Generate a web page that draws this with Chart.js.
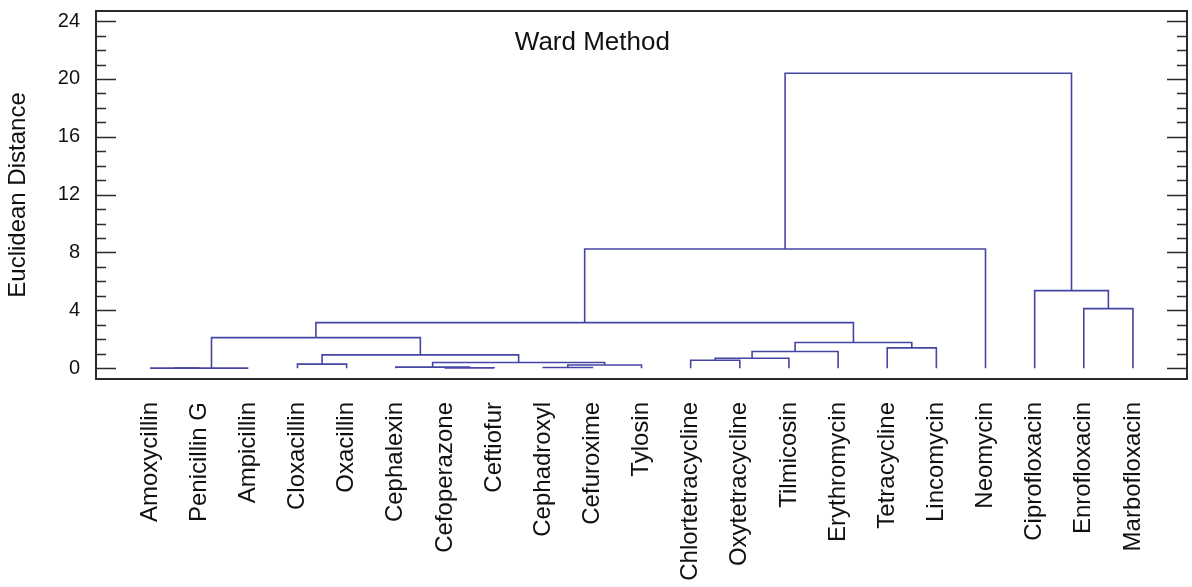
<!DOCTYPE html>
<html><head><meta charset="utf-8">
<script src="https://cdn.jsdelivr.net/npm/chart.js@4/dist/chart.umd.min.js"></script>
<style>html,body{margin:0;padding:0;background:#fff;} #wrap{width:1192px;height:587px;}</style>
</head><body><div id="wrap"><canvas id="c" width="1192" height="587"></canvas></div>
<script>
const leafNames = ['Amoxycillin','Penicillin G','Ampicillin','Cloxacillin','Oxacillin','Cephalexin','Cefoperazone','Ceftiofur','Cephadroxyl','Cefuroxime','Tylosin','Chlortetracycline','Oxytetracycline','Tilmicosin','Erythromycin','Tetracycline','Lincomycin','Neomycin','Ciprofloxacin','Enrofloxacin','Marbofloxacin'];
// merge k joins mergeLeft[k] and mergeRight[k]; ids < 21 are leaves, id 21+k is merge k
const mergeLeft  = [0, 21, 6, 8, 5, 24, 3, 25, 11, 29, 27, 30, 15, 32, 22, 35, 19, 18, 36, 39];
const mergeRight = [1, 2, 7, 9, 23, 10, 4, 26, 12, 13, 28, 14, 16, 33, 31, 34, 20, 37, 17, 38];
const mergeHeights = [0, 0, 0.02, 0.05, 0.07, 0.22, 0.28, 0.39, 0.55, 0.69, 0.92, 1.15, 1.40, 1.77, 2.11, 3.15, 4.12, 5.36, 8.24, 20.39];
const yTickValues = [0, 4, 8, 12, 16, 20, 24];
const minorTickValues = [0,1,2,3,4,5,6,7,8,9,10,11,12,13,14,15,16,17,18,19,20,21,22,23,24];
const chartTitle = 'Ward Method';
const yAxisTitle = 'Euclidean Distance';

const LINE = '#4545a3';
const FONT = "'Liberation Sans', Arial, Helvetica, sans-serif";

// build dendrogram segments from the linkage
const nLeaves = leafNames.length;
const nodeX = leafNames.map((_, i) => i);
const nodeH = leafNames.map(() => 0);
const datasets = [];
mergeHeights.forEach((h, k) => {
  const l = mergeLeft[k], r = mergeRight[k];
  nodeX[nLeaves + k] = (nodeX[l] + nodeX[r]) / 2;
  nodeH[nLeaves + k] = h;
  datasets.push({
    data: [
      {x: nodeX[l], y: nodeH[l]},
      {x: nodeX[l], y: h},
      {x: nodeX[r], y: h},
      {x: nodeX[r], y: nodeH[r]}
    ],
    showLine: true, borderColor: LINE, borderWidth: 1.6, pointRadius: 0, tension: 0, fill: false
  });
});

function noPad(s) { s.paddingTop = 0; s.paddingBottom = 0; s.paddingLeft = 0; s.paddingRight = 0; }

const framePlugin = {
  id: 'frame',
  afterDatasetsDraw(chart) {
    const {ctx, chartArea: a, scales: {x, y}} = chart;
    ctx.save();
    ctx.strokeStyle = '#2a2a2a';
    ctx.lineWidth = 1.5;
    minorTickValues.forEach(v => {
      const py = Math.round(y.getPixelForValue(v)) + 0.5;
      const len = (v % 4 === 0) ? 20 : 10;
      ctx.beginPath();
      ctx.moveTo(a.left, py); ctx.lineTo(a.left + len, py);
      ctx.moveTo(a.right, py); ctx.lineTo(a.right - len, py);
      ctx.stroke();
    });
    ctx.lineWidth = 2;
    ctx.strokeRect(a.left, a.top, a.right - a.left, a.bottom - a.top);
    ctx.fillStyle = '#111';
    ctx.font = '26px ' + FONT;
    ctx.textAlign = 'center';
    ctx.textBaseline = 'middle';
    ctx.fillText(chartTitle, x.getPixelForValue(9), y.getPixelForValue(22.5));
    ctx.restore();
  }
};

new Chart(document.getElementById('c'), {
  type: 'scatter',
  data: {datasets},
  options: {
    responsive: false,
    animation: false,
    devicePixelRatio: 1,
    layout: {padding: {top: 11, right: 5, left: 0, bottom: 0}},
    plugins: {legend: {display: false}, tooltip: {enabled: false}},
    scales: {
      x: {
        type: 'linear', position: 'bottom', min: -1.1, max: 21.1,
        grid: {display: false, drawTicks: false},
        border: {display: false},
        afterBuildTicks: s => { s.ticks = leafNames.map((_, i) => ({value: i})); },
        afterFit: s => { s.height = 208; noPad(s); },
        ticks: {
          autoSkip: false, minRotation: 90, maxRotation: 90, padding: 23,
          color: '#111', font: {family: FONT, size: 24},
          callback: (v) => leafNames[v]
        }
      },
      y: {
        type: 'linear', position: 'left', min: -0.75, max: 24.7,
        grid: {display: false, drawTicks: false},
        border: {display: false},
        afterBuildTicks: s => { s.ticks = yTickValues.map(v => ({value: v})); },
        afterFit: s => { s.width = 96; noPad(s); },
        ticks: {padding: 16, color: '#111', font: {family: FONT, size: 20}},
        title: {display: true, text: yAxisTitle, color: '#111', font: {family: FONT, size: 24}, padding: {top: 4, bottom: 0}}
      }
    }
  },
  plugins: [framePlugin]
});
</script>
</body></html>
